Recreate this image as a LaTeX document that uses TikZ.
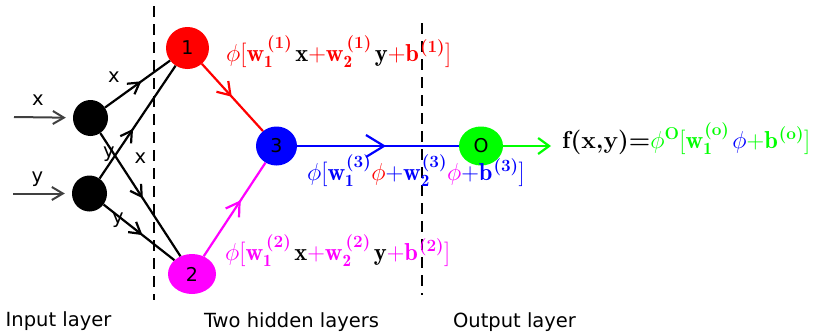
\RequirePackage{fix-cm}
\documentclass[tikz,border=0pt]{standalone}
\usepackage{amsmath}
\usepackage{fontspec}
\newfontfamily\dv{DejaVu Sans}
\usetikzlibrary{arrows.meta,decorations.markings,shapes.geometric}
\definecolor{mred}{RGB}{255,0,0}
\definecolor{mmag}{RGB}{255,0,255}
\definecolor{mblue}{RGB}{0,0,255}
\definecolor{mgreen}{RGB}{0,255,0}
\definecolor{mgray}{RGB}{64,64,64}
\newcommand{\Wv}[2]{\mathbf{w}_{\mathbf{#1}}^{\kern3pt\text{\bfseries(#2)}}\kern3pt}
\newcommand{\Wt}[2]{\mathbf{w}_{\mathbf{#1}}^{\kern1pt\text{\bfseries(#2)}}}
\newcommand{\Bv}[1]{\mathbf{b}^{\kern1pt\text{\bfseries(#1)}}}
\newcommand{\pl}{\mathord{+}}
\tikzset{
  neuron/.style={ellipse,inner sep=0pt,font=\dv\fontsize{19}{21}\selectfont},
  inp/.style={neuron,fill=black,minimum width=35pt,minimum height=36pt},
  midarrow/.style args={#1:#2:#3}{postaction={decorate},decoration={markings,mark=at position #1 with {\arrow{Straight Barb[length=#2pt,width=#3pt]}}}},
  edge/.style={line width=2.2pt},
  lbl/.style={font=\dv\fontsize{19.5}{22}\selectfont,inner sep=0pt},
  formula/.style={inner sep=0pt,anchor=base west,font=\fontsize{24.5}{28}\selectfont},
  layer/.style={line width=1.4pt,dash pattern=on 11pt off 7pt},
  inarrow/.style={mgray,line width=2pt,shorten >=7pt,-{Straight Barb[length=11pt,width=13pt]}},
}
\begin{document}
\begin{tikzpicture}[x=1pt,y=-1pt]
\useasboundingbox (0,0) rectangle (814,332);
% layer separators
\coordinate (d1a) at (154,6); \coordinate (d1b) at (154,300);
\coordinate (d2a) at (422,23); \coordinate (d2b) at (422,295);
\draw[layer] (d1a) -- (d1b);
\draw[layer] (d2a) -- (d2b);
% nodes
\node[inp] (nx) at (90.5,118) {};
\node[inp] (ny) at (89.5,193.5) {};
\node[neuron,fill=mred,minimum width=43pt,minimum height=42pt] (n1) at (187.5,48) {1};
\node[neuron,fill=mmag,minimum width=48pt,minimum height=40pt] (n2) at (192,274) {2};
\node[neuron,fill=mblue,minimum width=41pt,minimum height=39pt] (n3) at (276.5,146) {3};
\node[neuron,fill=mgreen,minimum width=44pt,minimum height=39pt] (no) at (481,146) {O};
% inputs
\coordinate (ix) at (14,117);
\coordinate (iy) at (13,193.5);
\draw[inarrow] (ix) -- (nx);
\draw[inarrow] (iy) -- (ny);
\node[lbl] (lx) at (38,100.5) {x};
\node[lbl] (ly) at (37.5,179.5) {y};
% input to hidden
\draw[edge,midarrow=0.56:11:13] (nx) -- (n1);
\draw[edge,midarrow=0.44:11:13] (ny) -- (n1);
\draw[edge,midarrow=0.53:11:13] (nx) -- (n2);
\draw[edge,midarrow=0.55:11:13] (ny) -- (n2);
\node[lbl] (l1) at (114,77.5) {x};
\node[lbl] (l2) at (109,154.5) {y};
\node[lbl] (l3) at (140.5,158) {x};
\node[lbl] (l4) at (118,220.5) {y};
% hidden
\draw[edge,mred,midarrow=0.49:12:16] (n1) -- (n3);
\draw[edge,mmag,midarrow=0.6:13:16] (n2) -- (n3);
\draw[edge,mblue,midarrow=0.55:18:22] (n3) -- (no);
\coordinate (out) at (551,146);
\draw[edge,mgreen,-{Straight Barb[length=11pt,width=16pt]}] (no) -- (out);
% formulas
\node[formula,text=mred] (f1) at (226,61) {$\phi[\Wv{1}{1}{\color{black}\mathbf{x}}\pl\Wv{2}{1}{\color{black}\mathbf{y}}\pl\Bv{1}]$};
\node[formula,text=mmag] (f2) at (225,260) {$\phi[\Wv{1}{2}{\color{black}\mathbf{x}}\pl\Wv{2}{2}{\color{black}\mathbf{y}}\pl\Bv{2}]$};
\node[formula,text=mblue] (f3) at (307,180) {$\phi[\Wt{1}{3}{\color{mred}\phi}\pl\Wt{2}{3}{\color{mmag}\phi}\pl\Bv{3}]$};
\node[formula,text=mgreen] (f4) at (562,148) {${\color{black}\text{\bfseries f(x,y)=}}\phi^{\text{\bfseries O}}[\Wt{1}{o}\kern3pt{\color{mblue}\phi}\pl\Bv{o}]$};
% layer labels
\node[lbl,anchor=base] (t1) at (58.5,326) {Input layer};
\node[lbl,anchor=base] (t2) at (291.5,327) {Two hidden layers};
\node[lbl,anchor=base] (t3) at (514.5,327) {Output layer};
\end{tikzpicture}
\end{document}
